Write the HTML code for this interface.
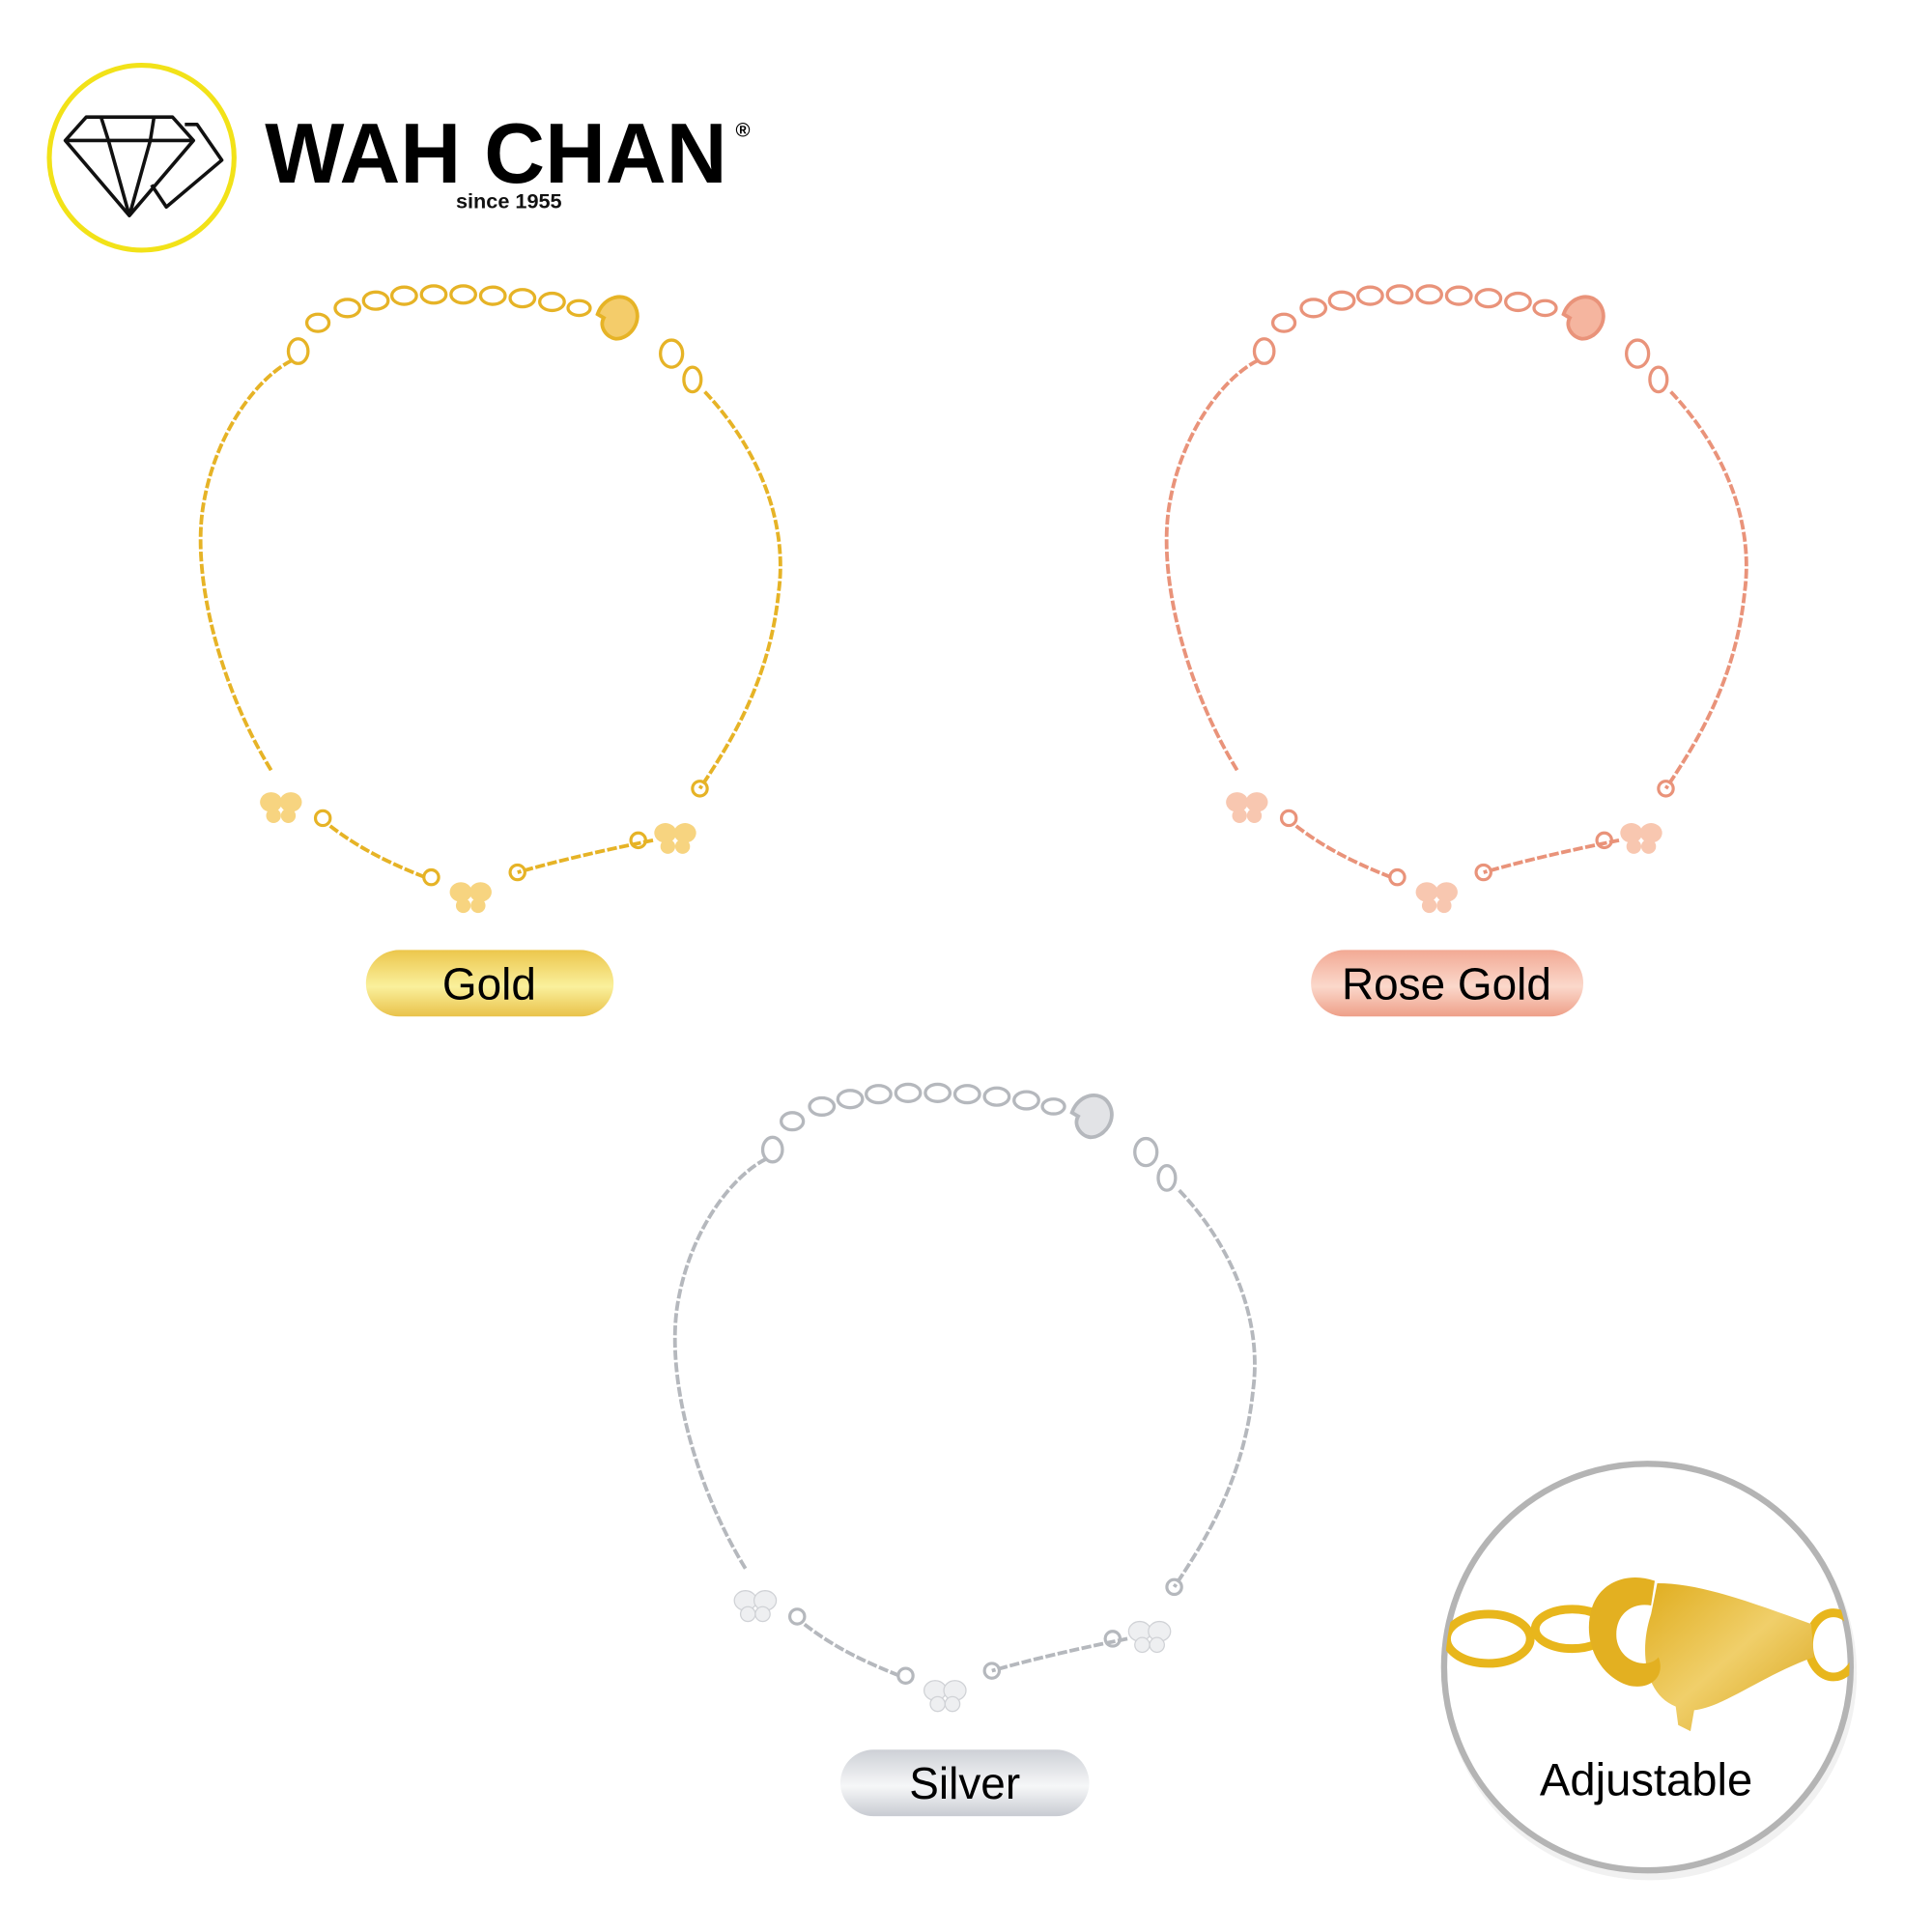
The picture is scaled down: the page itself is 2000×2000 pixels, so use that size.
<!DOCTYPE html>
<html><head><meta charset="utf-8"><style>
html,body{margin:0;padding:0;background:#fff;}
svg{display:block}
text{font-family:"Liberation Sans",sans-serif;}
</style></head><body>
<svg width="2000" height="2000" viewBox="0 0 1568 1568" xmlns="http://www.w3.org/2000/svg">
<defs>
<linearGradient id="gG" x1="0" y1="0" x2="0" y2="1"><stop offset="0" stop-color="#ecc64c"/><stop offset="0.55" stop-color="#faf09c"/><stop offset="1" stop-color="#e9c24a"/></linearGradient>
<linearGradient id="gR" x1="0" y1="0" x2="0" y2="1"><stop offset="0" stop-color="#f2a994"/><stop offset="0.55" stop-color="#fbd8cb"/><stop offset="1" stop-color="#ee9f88"/></linearGradient>
<linearGradient id="gS" x1="0" y1="0" x2="0" y2="1"><stop offset="0" stop-color="#cdd0d6"/><stop offset="0.55" stop-color="#f6f7f8"/><stop offset="1" stop-color="#c8cbd2"/></linearGradient>
<linearGradient id="gC" x1="0" y1="0" x2="1" y2="1"><stop offset="0" stop-color="#e0ad1e"/><stop offset="0.5" stop-color="#f0cf6a"/><stop offset="1" stop-color="#d9a41a"/></linearGradient>
<clipPath id="cc"><circle cx="1337" cy="1353" r="164"/></clipPath>
<g id="bf"><ellipse cx="-8" cy="-4" rx="9" ry="8"/><ellipse cx="8" cy="-4" rx="9" ry="8"/><ellipse cx="-6" cy="7" rx="6" ry="6"/><ellipse cx="6" cy="7" rx="6" ry="6"/></g>
<g id="br">
 <g fill="none" stroke-width="2.6">
  <ellipse cx="242" cy="285" rx="8" ry="10"/>
  <ellipse cx="258" cy="262" rx="9" ry="7"/>
  <ellipse cx="282" cy="250" rx="10" ry="7"/>
  <ellipse cx="305" cy="244" rx="10" ry="7"/>
  <ellipse cx="328" cy="240" rx="10" ry="7"/>
  <ellipse cx="352" cy="239" rx="10" ry="7"/>
  <ellipse cx="376" cy="239" rx="10" ry="7"/>
  <ellipse cx="400" cy="240" rx="10" ry="7"/>
  <ellipse cx="424" cy="242" rx="10" ry="7"/>
  <ellipse cx="448" cy="245" rx="10" ry="7"/>
  <ellipse cx="470" cy="250" rx="9" ry="6"/>
  <ellipse cx="545" cy="287" rx="9" ry="11"/>
  <ellipse cx="562" cy="308" rx="7" ry="10"/>
 </g>
 <path d="M485 255 C490 240 508 236 515 248 C522 260 512 275 500 275 C492 274 486 265 490 258 Z" stroke-width="3"/>
 <g fill="none" stroke-width="3" stroke-dasharray="8 2">
 <path d="M572 318 C612 360 640 420 632 480 C625 550 595 600 568 640"/>
 <path d="M530 682 C490 690 455 698 420 708"/>
 <path d="M345 712 C315 700 290 688 265 668"/>
 <path d="M220 625 C180 560 155 470 165 410 C175 350 210 305 238 292"/>
 </g>
 <g fill="none" stroke-width="2.5">
 <circle cx="568" cy="640" r="6"/>
 <circle cx="262" cy="664" r="6"/>
 <circle cx="350" cy="712" r="6"/>
 <circle cx="420" cy="708" r="6"/>
 <circle cx="518" cy="682" r="6"/>
 </g>
</g>
</defs>

<!-- logo -->
<circle cx="115" cy="128" r="75" fill="#fff" stroke="#f2e218" stroke-width="4"/>
<g fill="none" stroke="#111" stroke-width="2.8" stroke-linejoin="round">
 <path d="M70 95 L140 95 L157 114 L105 175 L53 114 Z"/>
 <path d="M53 114 L157 114 M82 95 L88 114 L105 175 M125 95 L122 114 L105 175"/>
 <path d="M150 101 L160 101 L180 130 L135 168 L123 150"/>
</g>
<text x="215" y="148" font-size="69" font-weight="bold" fill="#000" textLength="375" lengthAdjust="spacingAndGlyphs">WAH CHAN</text>
<text x="597" y="111" font-size="16" font-weight="bold" fill="#000">®</text>
<text x="413" y="169" font-size="17" font-weight="bold" fill="#111" text-anchor="middle">since 1955</text>

<!-- gold -->
<use href="#br" stroke="#e6b326" fill="#f4cc6a"/>
<g fill="#f7d480"><use href="#bf" x="228" y="655"/><use href="#bf" x="382" y="728"/><use href="#bf" x="548" y="680"/></g>
<rect x="297" y="771" width="201" height="54" rx="27" fill="url(#gG)"/>
<text x="397" y="811" font-size="36" fill="#000" text-anchor="middle">Gold</text>

<!-- rose -->
<g transform="translate(784,0)"><use href="#br" stroke="#e9937a" fill="#f5b59f"/>
<g fill="#f8c7b0"><use href="#bf" x="228" y="655"/><use href="#bf" x="382" y="728"/><use href="#bf" x="548" y="680"/></g></g>
<rect x="1064" y="771" width="221" height="54" rx="27" fill="url(#gR)"/>
<text x="1174" y="811" font-size="36" fill="#000" text-anchor="middle">Rose Gold</text>

<!-- silver -->
<g transform="translate(385,648)"><use href="#br" stroke="#b5b8bd" fill="#e2e3e6"/>
<g fill="#eeeff1" stroke="#d0d2d6" stroke-width="1"><use href="#bf" x="228" y="655"/><use href="#bf" x="382" y="728"/><use href="#bf" x="548" y="680"/></g></g>
<rect x="682" y="1420" width="202" height="54" rx="27" fill="url(#gS)"/>
<text x="783" y="1460" font-size="36" fill="#000" text-anchor="middle">Silver</text>

<!-- adjustable -->
<circle cx="1339" cy="1358" r="168" fill="#e8e8e8" opacity="0.6"/>
<circle cx="1337" cy="1353" r="165" fill="#fff" stroke="#b4b4b4" stroke-width="5"/>
<g clip-path="url(#cc)">
 <g fill="none" stroke="#e8b61c" stroke-width="7">
  <ellipse cx="1208" cy="1330" rx="34" ry="20"/>
  <ellipse cx="1276" cy="1322" rx="30" ry="16"/>
  <ellipse cx="1488" cy="1335" rx="20" ry="26"/>
 </g>
 <path d="M1345 1285 C1380 1285 1420 1300 1470 1318 L1472 1345 C1430 1360 1400 1385 1375 1388 L1372 1405 L1362 1400 L1360 1385 C1335 1375 1330 1340 1340 1310 Z" fill="url(#gC)"/>
 <path d="M1343 1283 C1320 1275 1298 1285 1292 1305 C1284 1330 1296 1360 1322 1368 C1340 1372 1352 1360 1346 1345 C1338 1355 1315 1350 1312 1330 C1310 1310 1325 1300 1340 1303 Z" fill="#e3b021"/>
</g>
<text x="1336" y="1457" font-size="37" fill="#000" text-anchor="middle">Adjustable</text>
</svg>
</body></html>
